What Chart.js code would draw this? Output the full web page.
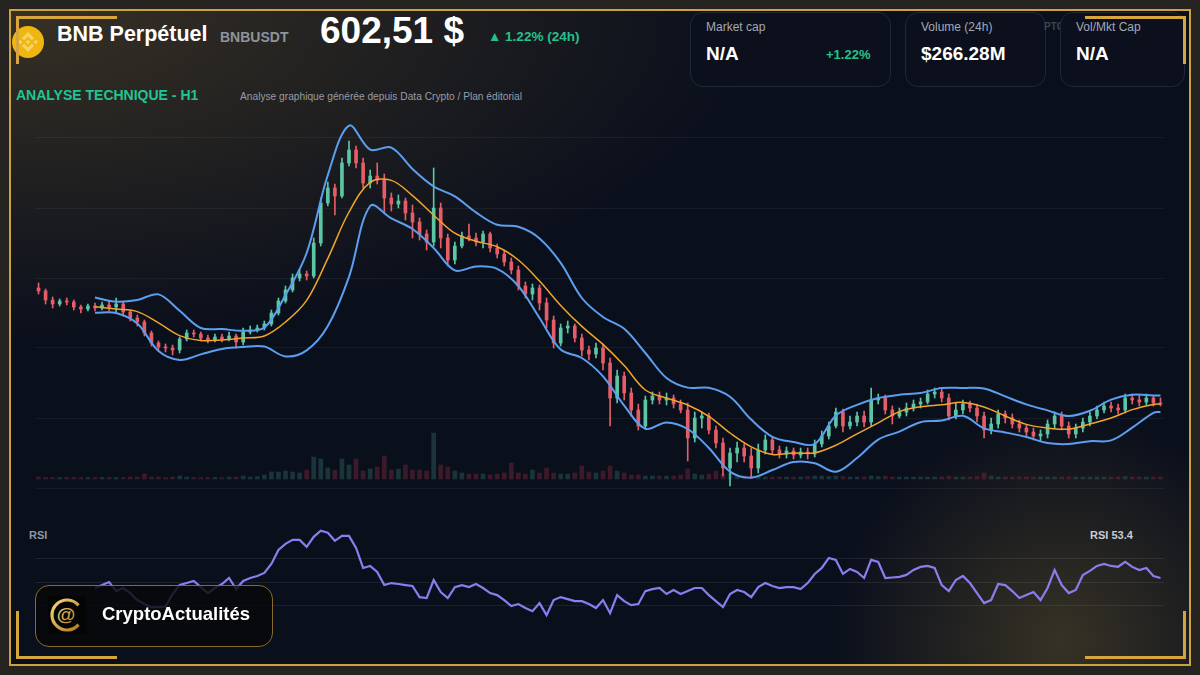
<!DOCTYPE html>
<html>
<head>
<meta charset="utf-8">
<script src="https://cdn.jsdelivr.net/npm/chart.js@4.4.1/dist/chart.umd.min.js"></script>
<style>
  html, body { margin: 0; padding: 0; }
  body {
    width: 1200px; height: 675px; position: relative; overflow: hidden;
    background: #24231f;
    font-family: "Liberation Sans", Arial, sans-serif;
  }
  #frame {
    position: absolute; left: 9px; top: 9px; width: 1178px; height: 653px;
    border: 2px solid #cca23f;
    background:
      radial-gradient(ellipse 760px 330px at 0px 0px, rgba(150,120,55,0.32), rgba(150,120,55,0) 100%),
      radial-gradient(circle 230px at 1050px 630px, rgba(170,140,60,0.28), rgba(170,140,60,0) 100%),
      #0a0f1c;
  }
  .corner { position: absolute; width: 98px; height: 45px; border: 0 solid #d6a53b; }
  .abs { position: absolute; white-space: nowrap; line-height: 1; }
  .card {
    position: absolute; top: 12px; height: 73px; border: 1px solid #20273a;
    border-radius: 13px; background: #0b101c;
  }
  .lbl { font-size: 12px; color: #a3a9b4; }
  .val { font-size: 19px; font-weight: bold; color: #ffffff; }
  canvas { position: absolute; }
</style>
</head>
<body>
<div id="frame"></div>

<!-- header -->
<svg class="abs" style="left:12px;top:26px" width="32" height="32" viewBox="0 0 32 32">
  <circle cx="16" cy="16" r="16" fill="#eeb60f"/>
  <path fill="rgba(255,236,170,0.55)" d="M12.116 14.404L16 10.52l3.886 3.886 2.26-2.26L16 6l-6.144 6.144 2.26 2.26zM6 16l2.26-2.26L10.52 16l-2.26 2.26L6 16zm6.116 1.596L16 21.48l3.886-3.886 2.26 2.259L16 26l-6.144-6.144-.003-.003 2.263-2.257zM21.48 16l2.26-2.26L26 16l-2.26 2.26L21.48 16zm-3.188-.002h.002V16L16 18.294l-2.291-2.29-.004-.004.004-.003.401-.402.195-.195L16 13.706l2.293 2.293z"/>
</svg>
<div class="abs" style="left:57px;top:24px;font-size:21.5px;font-weight:bold;color:#fff">BNB Perpétuel</div>
<div class="abs" style="left:220px;top:30px;font-size:14px;font-weight:bold;color:#8e949d">BNBUSDT</div>
<div class="abs" style="left:320px;top:12px;font-size:37px;font-weight:bold;color:#fff">602,51 $</div>
<div class="abs" style="left:488px;top:30px;font-size:13.5px;font-weight:bold;color:#27c08a">▲ 1.22% (24h)</div>

<div class="card" style="left:690px;width:199px"></div>
<div class="abs lbl" style="left:706px;top:21px">Market cap</div>
<div class="abs val" style="left:706px;top:44px">N/A</div>
<div class="abs" style="left:826px;top:48px;font-size:13px;font-weight:bold;color:#27c08a">+1.22%</div>

<div class="card" style="left:905px;width:139px"></div>
<div class="abs lbl" style="left:921px;top:21px">Volume (24h)</div>
<div class="abs val" style="left:921px;top:44px">$266.28M</div>

<div class="abs" style="left:1044px;top:22px;font-size:10px;font-weight:bold;color:#3e4450">PTC</div>
<div class="card" style="left:1060px;width:123px"></div>
<div class="abs lbl" style="left:1076px;top:21px">Vol/Mkt Cap</div>
<div class="abs val" style="left:1076px;top:44px">N/A</div>

<div class="abs" style="left:16px;top:88px;font-size:14px;font-weight:bold;color:#20c596">ANALYSE TECHNIQUE - H1</div>
<div class="abs" style="left:240px;top:92px;font-size:10.2px;color:#969ca6">Analyse graphique générée depuis Data Crypto / Plan éditorial</div>

<canvas id="price" width="1129" height="390" style="left:35px;top:100px"></canvas>

<div class="abs" style="left:29px;top:530px;font-size:11px;font-weight:bold;color:#8f96a3">RSI</div>
<div class="abs" style="left:1090px;top:530px;font-size:11px;font-weight:bold;color:#c9cbd6">RSI 53.4</div>
<canvas id="rsi" width="1129" height="118" style="left:35px;top:523px"></canvas>

<!-- brand badge -->
<div style="position:absolute;left:35px;top:585px;width:236px;height:60px;border:1px solid #8a6a2a;border-radius:14px;background:rgba(8,8,10,0.82)"></div>
<svg class="abs" style="left:48px;top:596px" width="38" height="38" viewBox="0 0 38 38">
  <defs>
    <linearGradient id="gold" x1="0" y1="0" x2="1" y2="1">
      <stop offset="0" stop-color="#f6d57e"/>
      <stop offset="1" stop-color="#b47c1c"/>
    </linearGradient>
  </defs>
  <rect width="38" height="38" fill="#050505"/>
  <path d="M30.5 9.36 A15 15 0 1 0 30.5 28.64" fill="none" stroke="url(#gold)" stroke-width="3.2"/>
  <text x="18" y="25" text-anchor="middle" font-family="Liberation Sans" font-weight="bold" font-size="19" fill="url(#gold)">@</text>
</svg>
<div class="abs" style="left:102px;top:605px;font-size:18.5px;font-weight:bold;color:#fff">CryptoActualités</div>

<!-- frame corners -->
<div class="corner" style="left:16px;top:16px;border-top-width:3px;border-left-width:3px"></div>
<div class="corner" style="left:1085px;top:16px;border-top-width:3px;border-right-width:3px"></div>
<div class="corner" style="left:16px;top:611px;border-bottom-width:3px;border-left-width:3px"></div>
<div class="corner" style="left:1085px;top:611px;border-bottom-width:3px;border-right-width:3px"></div>

<script>
// H1 candles, BNBUSDT
const opens = [631.5,630.75,628.5,627.5,628.25,628,626.75,626.25,627,626.5,
  627.25,626.75,627.5,625.5,624,623,620.25,617.75,616.75,616.5,
  616,618.75,620.25,620,619,618.5,619.25,618.75,619.5,618,
  620.5,621,621.5,622.5,625.25,628.25,631,634,635,634.5,
  642.75,652.75,656.5,654.5,662.75,666,662.75,657.75,659.5,658.5,
  654,652.5,653.25,650.25,648,645,643,651.5,644,638.5,
  642,644.5,644,643,645,641.5,640,638,636,632,
  630,631.5,627.75,623.5,617.75,621.5,622,619,616,615,
  616.5,612.75,604,609.5,605.25,601,597,603.5,604.5,603.5,
  604,602.5,601,594,599,599.5,596,592.75,586.5,590.25,
  591.5,589.5,586.5,591,593.5,591,590,590.75,589.75,590.5,
  590,592.5,594.5,597,600.5,597,598,599.5,598,603.5,
  604,601,599.5,600.5,601.5,602.5,603,605,605.5,604,
  599.5,601,602.5,601.5,599.5,596,597.5,600,599,597.5,
  596.5,595.5,594.5,595,597.5,599.5,597,595,596.5,598,
  599.5,601,602,601.5,601,604,603.5,603,604,602.75];
const highs = [632.75,631.25,629.25,628.75,629,628.5,627.25,627.5,627.75,628,
  628.25,629,628,626,624.75,623.5,620.75,618.25,617.5,617.25,
  619.25,621,621,620.5,619.75,620,620,620.5,620,621.5,
  622,622.25,623.25,626,629,632,635,636.25,635.75,644,
  654,658,657.5,664,668.25,667,664,661,662.75,660,
  655.25,654.75,654,652.25,649,646,661.5,652.75,645,643,
  645.5,647.5,645.25,645.75,645.5,642.5,641,639,637,633,
  632.5,632.25,629,624.5,622.5,623.25,622.5,620,617,617.75,
  617.5,614,611,610.5,606.5,602.5,604.5,605.5,605.5,605.25,
  604.75,603.5,602.75,600.5,600.5,600.25,597,594,591.5,593,
  592.5,591.5,592.5,594.75,594.25,592,591.75,591.5,591.5,591.5,
  593.5,595.75,598,601.5,601.25,599.5,600.5,600.75,606.5,605,
  604.75,602,601.5,602.75,603.5,604,606,606.5,606.25,605,
  602.75,603.5,603.25,602.5,600.5,599,601,600.75,600,598.5,
  597.25,596.5,596,598.5,600.5,600.5,598,597.5,599,600.5,
  602,603,603,602.5,605,605,604.75,605,604.5,604];
const lows = [630,627.5,626.5,627,627.25,626,625.25,625.75,625.75,626,
  625.75,625.5,624.5,623.25,622,619.5,617,616,615.5,614.75,
  615.25,618.25,619.25,618.25,617.75,618,618,618.25,616.5,617.25,
  620,620.5,621,622,624.75,627.75,630.5,633.25,633.5,634,
  642,652,649.75,654,662,661.5,656.5,656.5,657.5,650.5,
  650.75,651.5,648.5,644,643.5,641,642,641.5,637,637.5,
  641.5,643.25,642,641.5,640.5,639,637,635,631,629,
  628.5,626,621.5,616.5,617,620.25,618,614.5,613.5,614,
  611,597,602.75,603.5,599.5,596,596.25,602.5,602.5,602.25,
  601.5,600.25,588.25,593,596.5,595,591.5,584.5,582,588,
  588,584,585.25,590,590,589,589,588.75,589,588.75,
  589.25,591.75,593.75,596.5,595.5,596.25,597,596.75,597,602.5,
  600,597.5,599,599.5,600.75,601.5,602.5,604,603,598.5,
  598.75,600,600.5,598,594,595,596.5,597.75,596.5,595.5,
  594.5,593.5,593.25,594,596.5,596,594,594,595.5,597,
  598.75,600.25,600.5,600,600.25,602.5,602,602.25,602,602];
const closes = [630.75,628.5,627.5,628.25,628,626.75,626.25,627,626.5,627.25,
  626.75,627.5,625.5,624,623,620.25,617.75,616.75,616.5,616,
  618.75,620.25,620,619,618.5,619.25,618.75,619.5,618,620.5,
  621,621.5,622.5,625.25,628.25,631,634,635,634.5,642.75,
  652.75,656.5,654.5,662.75,666,662.75,657.75,659.5,658.5,654,
  652.5,653.25,650.25,648,645,643,651.5,644,638.5,642,
  644.5,644,643,645,641.5,640,638,636,632,630,
  631.5,627.75,623.5,617.75,621.5,622,619,616,615,616.5,
  612.75,604,609.5,605.25,601,597,603.5,604.5,603.5,604,
  602.5,601,594,599,599.5,596,592.75,586.5,590.25,591.5,
  589.5,586.5,591,593.5,591,590,590.75,589.75,590.5,590,
  592.5,594.5,597,600.5,597,598,599.5,598,603.5,604,
  601,599.5,600.5,601.5,602.5,603,605,605.5,604,599.5,
  601,602.5,601.5,599.5,596,597.5,600,599,597.5,596.5,
  595.5,594.5,595,597.5,599.5,597,595,596.5,598,599.5,
  601,602,601.5,601,604,603.5,603,604,602.75,602.5];
// volume, thousands of BNB
const volumes = [2,1.5,1.5,1.5,1.5,1.5,1.5,1.5,1.5,1.5,
  1.5,1.5,1.5,2,2,5,2,2,1.5,2,
  3,2,1.5,1.5,1.5,1.5,1.5,2,2,3,
  2,2.5,4,7,7,8,7,6,9,22,
  20,11,9,20,14,20,8,10,12,23,
  9,10,14,9,9,8,46,14,12,8,
  6,5,5,5,4,5,6,16,6,5,
  9,6,11,6,5,5,6,13,7,6,
  8,13,8,6,4,4,3,3,3,3,
  3,4,10,5,4,5,8,5,6,3,
  3,2.5,2.5,2,2,2,2,2,2,2.5,
  3,3,2.5,3,2.5,2,2,2,3,2.5,
  3,2,2,2,2,2,2,2,2,3,
  2,2,2,2.5,6,3,2,2,2,2,
  2,2,2,2,2,2,2,2,2,2,
  2,2,2,2,2.5,2,2,2,2,2];

// Bollinger bands (20) and middle average, read every 3 candles
const bbIndex = [8,11,14,17,20,23,26,29,32,35,38,41,44,47,50,53,56,59,62,65,
  68,71,74,77,80,83,86,89,92,95,98,101,104,107,110,113,116,119,122,125,
  128,131,134,137,140,143,146,149,152,155,158,159];
const bbUpper = [629.1,628.1,628.5,629.9,625.8,621.5,621.25,620.8,621.6,629.75,
  640.25,659.75,672.1,666.1,666.6,661.25,656.9,654.4,650.4,647.3,
  646.8,643.9,637.8,629,624.25,621.3,615.25,609,606.6,606.55,
  604.3,598.6,594.3,593,592.5,599.6,602.3,604,604.8,605.25,
  606.5,606.5,606.4,604.4,602.4,600.9,599.5,600.8,603.6,604.8,
  604.65,604.6];
const bbMiddle = [626.8,626.25,625.6,622.8,619.6,618.4,618.5,619,619.5,623,
  628.4,638.9,650.5,657.9,658.4,654.6,649.7,645.2,643.2,641.8,
  638.5,633.25,627.15,621.9,617.4,612.1,606,604,602.25,599.4,
  595.25,591.8,589.9,590.25,590.3,592.2,595.05,597.8,600.6,601.8,
  602.3,602.9,601.75,599.5,597.4,596.5,596.2,597.5,599,601.1,
  602.4,602.5];
const bbLower = [625.3,625.25,622.6,615.75,613.5,614.9,616.25,616.75,616.85,614.4,
  615.9,622,634.3,652,648.9,646.25,641.5,635.9,636.9,636.3,
  632,624,616.1,614,609.4,602.1,596.3,597.9,596.25,591.5,
  585.6,584.1,586,588,587.7,585.55,589,593.6,595.6,597.95,
  598.35,599.55,596.4,595.4,594.25,592.75,592.5,593.2,593.4,596.6,
  600.3,600.5];

// RSI(14), from candle 8 to the last one
const rsiStart = 8;
const rsiValues = [44.9,47.4,50,42.3,44.9,40.6,34.7,31.3,28.7,28.7,
  29.2,39.8,47.4,49.1,50.9,45.7,40.6,44.9,48.3,53.4,
  44,50.9,53.4,55.1,57.7,65.3,77.2,82.3,85.7,85.7,
  79.8,88.3,93.4,91.7,84.9,89.1,89.1,78.9,61.9,63.6,
  58.5,47.4,49.1,48.3,47.4,46.6,37.2,36.4,51.7,41.5,
  36.4,45.7,47.4,45.7,48.3,44.9,40.6,38.9,34.7,29.6,
  31.3,27.9,25.3,32.1,21.9,34.7,37.2,35.5,33.8,33.8,
  31.3,27.9,34.7,23.6,38.9,33.8,30.4,31.3,42.3,44,
  44.9,39.8,43.2,39.8,42.3,44.9,44.9,38.9,33.8,28.7,
  39.8,43.2,41.5,37.2,45.7,49.1,46.6,44.9,45.7,45.7,
  44,49.1,56.8,61.9,70.4,68.7,56.8,61.1,58.5,53.4,
  68.7,67,53.4,53.8,54.3,56,60.2,62.8,63.6,61.9,
  47.4,42.3,51.7,55.1,49.1,40.6,32.1,34.7,48.3,47.4,
  42.3,36.4,38.9,41.5,34.7,44.9,60.2,47.4,40.6,43.2,
  56,59.4,63.6,65.3,63.6,62.9,67,62.8,60.2,61.9,
  55.1,53.4];

const priceGrid = [581.5, 599, 616.5, 634, 651.5, 669];
const rsiGrid = [30, 50, 70];

const UP = '#5cc6a4', DOWN = '#e55d67';
const upCandle = closes.map((c, i) => c >= opens[i]);
const candleColors = upCandle.map(u => u ? UP : DOWN);
const volColors = upCandle.map(u => u ? 'rgba(62,130,120,0.32)' : 'rgba(170,50,70,0.32)');

const xScale = { type: 'linear', min: -0.5, max: closes.length - 0.5, display: false, offset: false };

new Chart(document.getElementById('price').getContext('2d'), {
  type: 'bar',
  data: {
    datasets: [
      {
        type: 'line', label: 'BB upper',
        data: bbIndex.map((x, k) => ({ x: x, y: bbUpper[k] })),
        borderColor: '#5c9ff0', borderWidth: 2, pointRadius: 0, tension: 0.35, order: 0
      },
      {
        type: 'line', label: 'MA 20',
        data: bbIndex.map((x, k) => ({ x: x, y: bbMiddle[k] })),
        borderColor: '#f2a52a', borderWidth: 1.5, pointRadius: 0, tension: 0.35, order: 0
      },
      {
        type: 'line', label: 'BB lower',
        data: bbIndex.map((x, k) => ({ x: x, y: bbLower[k] })),
        borderColor: '#5c9ff0', borderWidth: 2, pointRadius: 0, tension: 0.35, order: 0
      },
      {
        label: 'body',
        data: closes.map((c, i) => ({ x: i, y: [opens[i], c] })),
        backgroundColor: candleColors, barThickness: 3, minBarLength: 1, grouped: false, order: 1
      },
      {
        label: 'wick',
        data: closes.map((c, i) => ({ x: i, y: [lows[i], highs[i]] })),
        backgroundColor: candleColors, barThickness: 1, grouped: false, order: 2
      },
      {
        label: 'volume', yAxisID: 'yv',
        data: volumes.map((v, i) => ({ x: i, y: v })),
        backgroundColor: volColors, barThickness: 4, grouped: false, order: 3
      }
    ]
  },
  options: {
    responsive: false,
    animation: false,
    layout: { padding: 0 },
    plugins: { legend: { display: false }, tooltip: { enabled: false } },
    scales: {
      x: xScale,
      y: {
        min: 581, max: 678.5,
        afterBuildTicks: s => { s.ticks = priceGrid.map(v => ({ value: v })); },
        ticks: { display: false },
        grid: { color: 'rgba(255,255,255,0.05)', drawTicks: false },
        border: { display: false }
      },
      yv: { min: -11, max: 379, display: false }
    }
  }
});

new Chart(document.getElementById('rsi').getContext('2d'), {
  type: 'line',
  data: {
    datasets: [{
      label: 'RSI',
      data: rsiValues.map((r, k) => ({ x: rsiStart + k, y: r })),
      borderColor: '#8b7df0', borderWidth: 2.2, pointRadius: 0, tension: 0
    }]
  },
  options: {
    responsive: false,
    animation: false,
    layout: { padding: 0 },
    plugins: { legend: { display: false }, tooltip: { enabled: false } },
    scales: {
      x: xScale,
      y: {
        min: 0, max: 100,
        afterBuildTicks: s => { s.ticks = rsiGrid.map(v => ({ value: v })); },
        ticks: { display: false },
        grid: { color: 'rgba(255,255,255,0.08)', drawTicks: false },
        border: { display: false }
      }
    }
  }
});
</script>
</body>
</html>
